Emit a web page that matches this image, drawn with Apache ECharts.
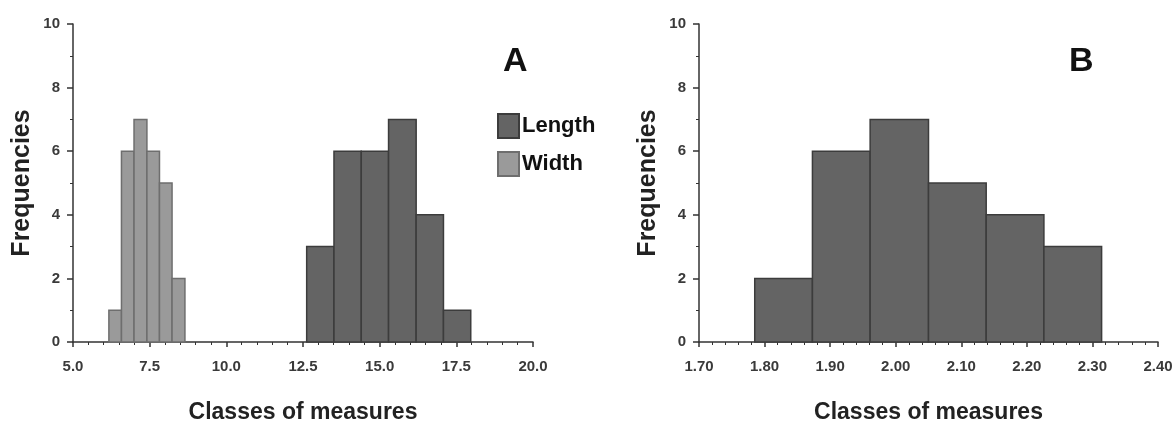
<!DOCTYPE html>
<html>
<head>
<meta charset="utf-8">
<script src="https://cdn.jsdelivr.net/npm/echarts@6/dist/echarts.min.js"></script>
<style>
  html, body { margin: 0; padding: 0; background: #fff; }
  #chart { width: 1175px; height: 423px; }
</style>
</head>
<body>
<div id="chart"></div>
<script>
// class edges and counts
const widthEdges = [6.17, 6.58, 6.99, 7.41, 7.82, 8.23, 8.65];
const widthCounts = [1, 6, 7, 6, 5, 2];
const lengthEdges = [12.62, 13.51, 14.40, 15.29, 16.19, 17.08, 17.97];
const lengthCounts = [3, 6, 6, 7, 4, 1];
const ratioEdges = [1.785, 1.873, 1.961, 2.050, 2.138, 2.226, 2.314];
const ratioCounts = [2, 6, 7, 5, 4, 3];

function toBins(edges, counts) {
    return counts.map((c, i) => [edges[i], edges[i + 1], c]);
}

function renderBins(params, api) {
    const start = api.coord([api.value(0), api.value(2)]);
    const end = api.coord([api.value(1), 0]);
    return {
        type: 'rect',
        shape: { x: start[0], y: start[1], width: end[0] - start[0], height: end[1] - start[1] },
        style: api.style()
    };
}

const font = 'Liberation Sans, Arial, sans-serif';
const labelStyle = { color: '#3a3a3a', fontSize: 15, fontWeight: 'bold', fontFamily: font };
const axisLine = { show: true, lineStyle: { color: '#333', width: 1.5 } };

function xAxisFor(gridIndex, min, max, interval, digits) {
    return {
        type: 'value', gridIndex, min, max, interval,
        name: 'Classes of measures', nameLocation: 'middle', nameGap: 59,
        nameTextStyle: { color: '#222', fontSize: 23, fontWeight: 'bold', fontFamily: font },
        axisLine, splitLine: { show: false },
        axisTick: { show: true, length: 5, lineStyle: { color: '#333', width: 1.5 } },
        minorTick: { show: true, splitNumber: 5, length: 3, lineStyle: { color: '#333' } },
        axisLabel: Object.assign({ margin: 17, formatter: v => v.toFixed(digits) }, labelStyle)
    };
}

function yAxisFor(gridIndex) {
    return {
        type: 'value', gridIndex, min: 0, max: 10, interval: 2,
        name: 'Frequencies', nameLocation: 'middle', nameGap: 38, nameRotate: 90,
        nameTextStyle: { color: '#222', fontSize: 25, fontWeight: 'bold', fontFamily: font },
        axisLine, splitLine: { show: false },
        axisTick: { show: true, length: 6, lineStyle: { color: '#333', width: 1.5 } },
        minorTick: { show: true, splitNumber: 2, length: 3, lineStyle: { color: '#333' } },
        axisLabel: Object.assign({ margin: 13 }, labelStyle)
    };
}

const chart = echarts.init(document.getElementById('chart'));

const option = {
    backgroundColor: '#fff',
    animation: false,
    title: [
        { text: 'A', left: 503, top: 45, padding: 0, textStyle: { fontSize: 34, fontWeight: 'bold', color: '#111', fontFamily: font } },
        { text: 'B', left: 1069, top: 45, padding: 0, textStyle: { fontSize: 34, fontWeight: 'bold', color: '#111', fontFamily: font } }
    ],
    legend: {
        data: ['Length', 'Width'],
        orient: 'vertical',
        left: 497, top: 113, padding: 0,
        icon: 'rect', itemWidth: 21, itemHeight: 24, itemGap: 12,
        textStyle: { fontSize: 22, fontWeight: 'bold', color: '#111', fontFamily: font, padding: [0, 0, 0, -2] }
    },
    grid: [
        { left: 73, top: 24, width: 460, height: 318, outerBoundsMode: 'none' },
        { left: 699, top: 24, width: 459, height: 318, outerBoundsMode: 'none' }
    ],
    xAxis: [
        xAxisFor(0, 5, 20, 2.5, 1),
        xAxisFor(1, 1.7, 2.4, 0.1, 2)
    ],
    yAxis: [yAxisFor(0), yAxisFor(1)],
    series: [
        {
            name: 'Length', type: 'custom', xAxisIndex: 0, yAxisIndex: 0,
            renderItem: renderBins, encode: { x: [0, 1], y: 2 },
            itemStyle: { color: '#646464', borderColor: '#3c3c3c', borderWidth: 1.5 },
            data: toBins(lengthEdges, lengthCounts)
        },
        {
            name: 'Width', type: 'custom', xAxisIndex: 0, yAxisIndex: 0,
            renderItem: renderBins, encode: { x: [0, 1], y: 2 },
            itemStyle: { color: '#9a9a9a', borderColor: '#6e6e6e', borderWidth: 1.5 },
            data: toBins(widthEdges, widthCounts)
        },
        {
            name: 'Ratio', type: 'custom', xAxisIndex: 1, yAxisIndex: 1,
            renderItem: renderBins, encode: { x: [0, 1], y: 2 },
            itemStyle: { color: '#646464', borderColor: '#3c3c3c', borderWidth: 1.5 },
            data: toBins(ratioEdges, ratioCounts)
        }
    ]
};

chart.setOption(option);
</script>
</body>
</html>
